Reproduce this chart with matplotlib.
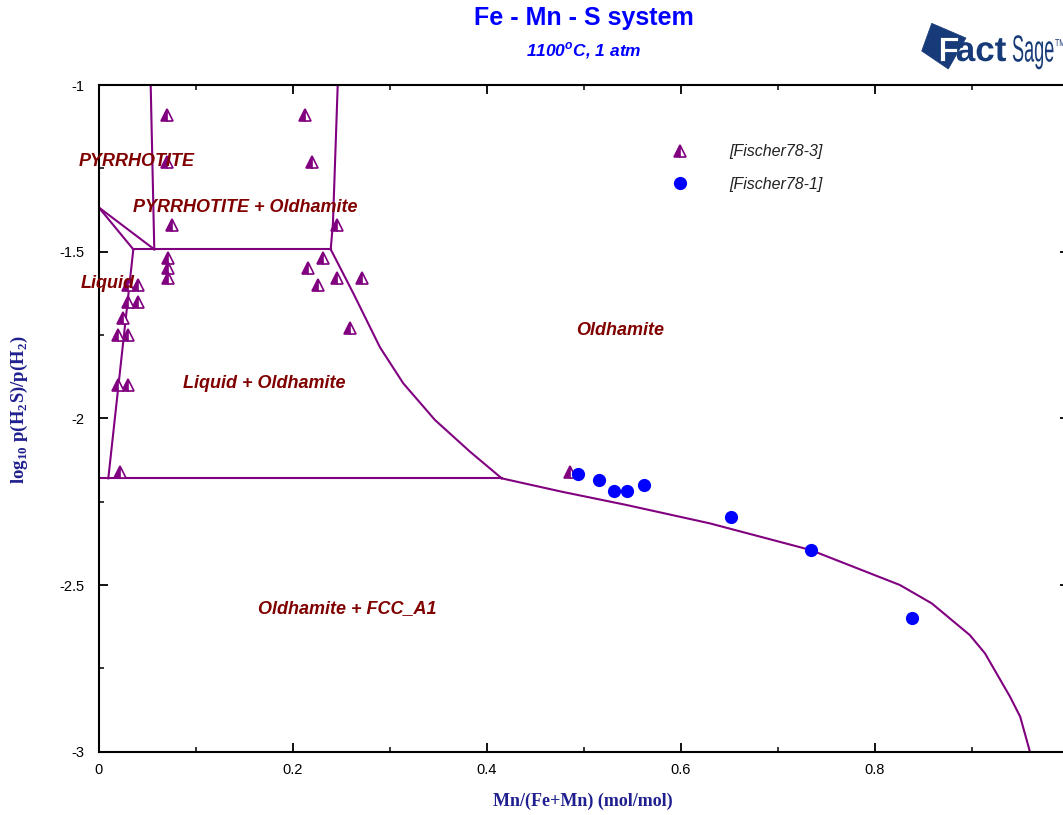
import matplotlib
matplotlib.use("Agg")
import matplotlib.pyplot as plt
from matplotlib.font_manager import FontProperties
from matplotlib.ticker import MultipleLocator, FixedLocator, FixedFormatter
from matplotlib.textpath import TextPath
from matplotlib.patches import PathPatch, Polygon
from matplotlib.transforms import Affine2D, IdentityTransform

# ---------------- data ----------------
# phase boundaries (x = Mn/(Fe+Mn), y = log10 p(H2S)/p(H2))
pyrr_left_x = [0.0536, 0.0573]
pyrr_left_y = [-1.0, -1.493]
pyrr_right_x = [0.2464, 0.2415, 0.2392]
pyrr_right_y = [-1.0, -1.414, -1.493]
upper_tie_x = [0.0357, 0.2392]
upper_tie_y = [-1.493, -1.493]
liq_pyrr_a_x = [0.0, 0.0357]
liq_pyrr_a_y = [-1.367, -1.493]
liq_pyrr_b_x = [0.0, 0.0573]
liq_pyrr_b_y = [-1.367, -1.493]
liquid_edge_x = [0.0357, 0.0099]
liquid_edge_y = [-1.493, -2.18]
lower_tie_x = [0.0, 0.4155]
lower_tie_y = [-2.18, -2.18]
oldh_liq_x = [0.2392, 0.2625, 0.290, 0.314, 0.3467, 0.3828, 0.4155]
oldh_liq_y = [-1.493, -1.625, -1.787, -1.895, -2.005, -2.100, -2.18]
oldh_fcc_x = [0.4155, 0.4773, 0.5443, 0.630, 0.734, 0.826, 0.8588, 0.898,
              0.9137, 0.9395, 0.950, 0.960]
oldh_fcc_y = [-2.18, -2.22, -2.26, -2.315, -2.395, -2.50, -2.555, -2.65,
              -2.705, -2.835, -2.895, -3.0]

boundaries = [
    (pyrr_left_x, pyrr_left_y), (pyrr_right_x, pyrr_right_y),
    (upper_tie_x, upper_tie_y), (liq_pyrr_a_x, liq_pyrr_a_y),
    (liq_pyrr_b_x, liq_pyrr_b_y), (liquid_edge_x, liquid_edge_y),
    (lower_tie_x, lower_tie_y), (oldh_liq_x, oldh_liq_y),
    (oldh_fcc_x, oldh_fcc_y),
]

# experimental points
fischer3_x = [0.0707, 0.2127, 0.0701, 0.2196, 0.0759, 0.2454, 0.0718, 0.0718,
              0.0718, 0.2316, 0.2161, 0.2264, 0.2454, 0.2711, 0.2591, 0.0305,
              0.0408, 0.0305, 0.0408, 0.0254, 0.0202, 0.0305, 0.0202, 0.0305,
              0.022, 0.486]
fischer3_y = [-1.09, -1.09, -1.23, -1.23, -1.42, -1.42, -1.52, -1.55,
              -1.58, -1.52, -1.55, -1.60, -1.58, -1.58, -1.73, -1.60,
              -1.60, -1.65, -1.65, -1.70, -1.75, -1.75, -1.90, -1.90,
              -2.16, -2.16]
fischer1_x = [0.4938, 0.516, 0.5316, 0.5443, 0.5625, 0.652, 0.7343, 0.838]
fischer1_y = [-2.167, -2.185, -2.218, -2.218, -2.200, -2.296, -2.395, -2.600]

x_ticks = [0.0, 0.2, 0.4, 0.6, 0.8, 1.0]
x_tick_labels = ["0", "0.2", "0.4", "0.6", "0.8", ""]
y_ticks = [-3.0, -2.5, -2.0, -1.5, -1.0]
y_tick_labels = ["-3", "-2.5", "-2", "-1.5", "-1"]

region_labels = [
    ("PYRRHOTITE", -0.021, -1.2415),
    ("PYRRHOTITE + Oldhamite", 0.0351, -1.380),
    ("Liquid", -0.0186, -1.608),
    ("Liquid + Oldhamite", 0.0866, -1.908),
    ("Oldhamite", 0.4921, -1.751),
    ("Oldhamite + FCC_A1", 0.1642, -2.584),
]

# ---------------- styling ----------------
PURPLE = "#800080"
BLUE = "#0000ff"
MAROON = "#800000"
NAVY = "#1f1f8f"
LOGO = "#173a78"

W, H = 1063, 815
fig = plt.figure(figsize=(W / 100, H / 100), dpi=100)
ax = fig.add_axes([98.7 / W, (H - 751.7) / H, 970 / W, (751.7 - 85) / H])
ax.set_xlim(0, 1)
ax.set_ylim(-3, -1)

for bx, by in boundaries:
    ax.plot(bx, by, color=PURPLE, lw=1.5, zorder=2, solid_joinstyle="miter")

ax.plot(fischer3_x, fischer3_y, linestyle="none", marker="^", ms=8.5,
        fillstyle="left", mfc=PURPLE, mfcalt="white", mec=PURPLE, mew=1.2,
        zorder=4, clip_on=False, label="[Fischer78-3]")
ax.plot(fischer1_x, fischer1_y, linestyle="none", marker="o", ms=9.5,
        color=BLUE, mec=BLUE, mew=0, zorder=4, label="[Fischer78-1]")

lab_font = FontProperties(family="Liberation Sans", weight="bold",
                          style="italic", size=13)
for txt, lx, ly in region_labels:
    ax.text(lx, ly, txt, fontproperties=lab_font, color=MAROON,
            ha="left", va="baseline", zorder=6, clip_on=False)

# axes frame and ticks
for sp in ax.spines.values():
    sp.set_linewidth(1.5)
    sp.set_color("black")
ax.xaxis.set_major_locator(FixedLocator(x_ticks))
ax.xaxis.set_major_formatter(FixedFormatter(x_tick_labels))
ax.yaxis.set_major_locator(FixedLocator(y_ticks))
ax.yaxis.set_major_formatter(FixedFormatter(y_tick_labels))
ax.xaxis.set_minor_locator(MultipleLocator(0.1))
ax.yaxis.set_minor_locator(MultipleLocator(0.25))
ax.tick_params(which="both", direction="in", top=True, right=True,
               color="black")
ax.tick_params(which="major", length=6.5, width=1.3)
ax.tick_params(which="minor", length=3.5, width=1.1)
ax.tick_params(axis="x", pad=8)
ax.tick_params(axis="y", pad=10)
tick_font = FontProperties(family="Liberation Sans", size=10.5)
for t in ax.get_xticklabels() + ax.get_yticklabels():
    t.set_fontproperties(tick_font)

# axis titles
ax_font = FontProperties(family="Liberation Serif", weight="bold", size=13)
fig.text(583 / W, (H - 801.7) / H, "Mn/(Fe+Mn) (mol/mol)",
         fontproperties=ax_font, color=NAVY, ha="center", va="center")
fig.text(19 / W, (H - 410) / H,
         r"log$_{\mathregular{10}}$ p(H$_{\mathregular{2}}$S)/p(H$_{\mathregular{2}}$)",
         fontproperties=FontProperties(family="Liberation Serif",
                                       weight="bold", size=13.5),
         color=NAVY, ha="center", va="center", rotation=90)

# titles
fig.text(583.7 / W, (H - 18) / H, "Fe - Mn - S system",
         fontproperties=FontProperties(family="Liberation Sans",
                                       weight="bold", size=18),
         color=BLUE, ha="center", va="center")
fig.text(583.7 / W, (H - 51) / H, r"1100$^{\mathregular{o}}$C, 1 atm",
         fontproperties=FontProperties(family="Liberation Sans",
                                       weight="bold", style="italic",
                                       size=12.5),
         color=BLUE, ha="center", va="center")

# legend
ax.legend(loc="center left", bbox_to_anchor=(664 / W, (H - 168) / H),
          bbox_transform=fig.transFigure, frameon=False,
          prop=FontProperties(family="Liberation Sans", style="italic",
                              size=11.5),
          labelcolor="#222222", handlelength=2, handletextpad=2.06,
          labelspacing=1.09, borderpad=0, borderaxespad=0, numpoints=1)

# FactSage logo, drawn in pixel space
def px(xp, yp):
    return (xp, H - yp)

diamond = Polygon([px(931.7, 23.3), px(966, 38), px(948.3, 69), px(921.7, 51)],
                  closed=True, transform=IdentityTransform(),
                  facecolor=LOGO, edgecolor=LOGO, lw=0.5)
fig.add_artist(diamond)

def logo_text(s, x0, base, size, sx, color, weight="normal", edge=None):
    tp = TextPath((0, 0), s, size=size,
                  prop=FontProperties(family="Liberation Sans", weight=weight))
    tr = Affine2D().scale(sx, 1.0).translate(x0, H - base)
    patch = PathPatch(tr.transform_path(tp), transform=IdentityTransform(),
                      facecolor=color, edgecolor=edge if edge else color,
                      lw=0.6 if edge else 0)
    fig.add_artist(patch)

logo_text("F", 937.5, 61, 35, 1.0, "white", weight="bold", edge=LOGO)
logo_text("act", 955.8, 61, 35, 1.0, LOGO, weight="bold")
logo_text("Sage", 1012, 61.5, 37.7, 0.48, LOGO)
logo_text("TM", 1055, 46, 10, 0.7, LOGO)

fig.savefig("out.png", dpi=100)
